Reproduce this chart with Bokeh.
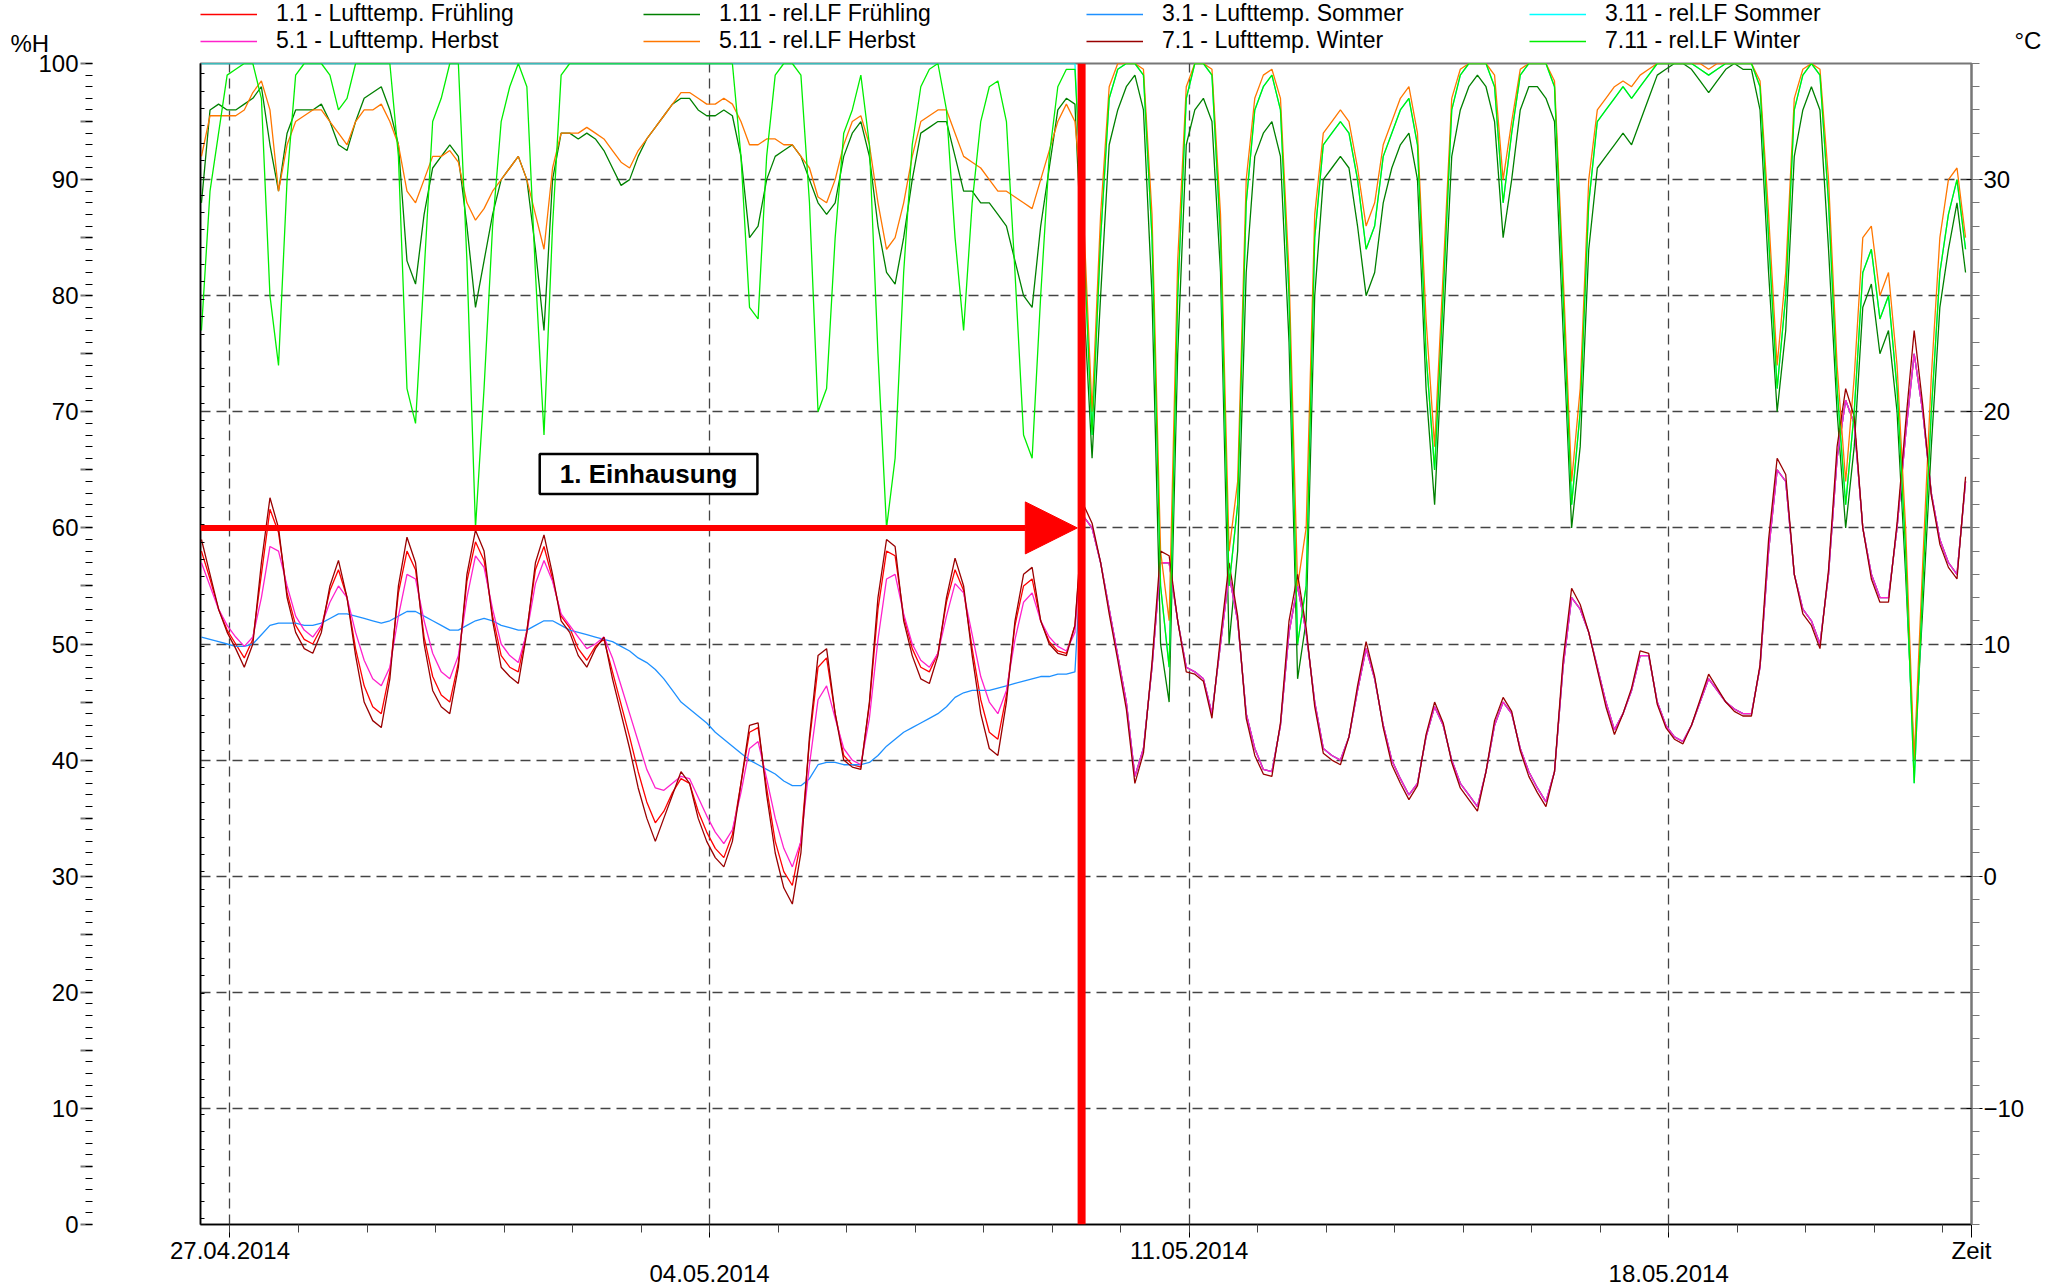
import pandas as pd
from bokeh.plotting import figure
from bokeh.layouts import column, row
from bokeh.models import (Range1d, LinearAxis, FixedTicker, SingleIntervalTicker, Legend,
                          LegendItem, Span, Arrow, NormalHead, Label, ColumnDataSource, Grid,
                          Title)
from bokeh.embed import file_html
from bokeh.resources import INLINE

FONT = "Liberation Sans"

# ---------------- data (3-hourly) ----------------
start_time = "2014-04-26 14:00"
n_points = 207

# --- temperatures before the 1st enclosure (26.04 14:00 .. 09.05 08:00) ---
tf_before = [14.0, 12.8, 11.5, 10.6,
             10.0, 9.4, 10.2, 13.0, 15.8, 14.8, 12.2, 10.8,
             10.2, 10.0, 10.7, 12.3, 13.2, 12.0, 9.8, 8.2,
             7.3, 7.0, 8.8, 12.2, 14.0, 13.2, 10.3, 8.6,
             7.8, 7.5, 9.2, 12.7, 14.4, 13.6, 11.2, 9.5,
             9.0, 8.8, 10.6, 13.2, 14.2, 12.8, 11.2, 10.7,
             9.8, 9.3, 9.9, 10.2, 8.8, 7.4, 6.0, 4.5,
             3.2, 2.3, 2.8, 3.6, 4.2, 4.0, 2.8, 1.9,
             1.2, 0.8, 1.8, 4.0, 6.2, 6.4, 3.8, 1.5,
             0.2, -0.4, 1.5, 5.8, 9.0, 9.4, 7.0, 5.2,
             4.8, 4.7, 7.4, 11.5, 14.0, 13.8, 11.2, 9.8,
             9.0, 8.8, 9.6, 11.8, 13.2, 12.3, 9.8, 7.6,
             6.2, 5.9, 7.8, 10.8, 12.5, 12.8, 11.0, 10.1,
             9.7, 9.6, 10.8]
th_before = [13.5, 12.5, 11.5, 10.8,
             10.3, 9.9, 10.3, 12.0, 14.2, 14.0, 12.5, 11.2,
             10.6, 10.3, 10.8, 11.8, 12.5, 12.0, 10.5, 9.3,
             8.5, 8.2, 9.0, 11.2, 13.0, 12.8, 11.0, 9.6,
             8.8, 8.5, 9.5, 12.0, 13.8, 13.3, 11.5, 10.0,
             9.5, 9.2, 10.5, 12.6, 13.6, 12.7, 11.3, 10.8,
             10.3, 9.8, 10.0, 10.3, 9.4, 8.2, 7.0, 5.8,
             4.6, 3.8, 3.7, 4.0, 4.3, 4.2, 3.4, 2.6,
             1.9, 1.4, 2.0, 3.6, 5.5, 5.8, 4.2, 2.5,
             1.2, 0.4, 1.5, 4.8, 7.6, 8.2, 6.8, 5.5,
             5.0, 4.8, 6.8, 10.2, 12.8, 13.0, 11.3, 10.0,
             9.3, 9.0, 9.6, 11.2, 12.6, 12.2, 10.4, 8.6,
             7.5, 7.0, 8.0, 10.2, 11.8, 12.2, 11.0, 10.3,
             9.9, 9.7, 10.5]
tw_before = [14.5, 13.0, 11.5, 10.5,
             9.8, 9.0, 10.0, 13.5, 16.3, 15.0, 12.0, 10.5,
             9.8, 9.6, 10.5, 12.5, 13.6, 12.0, 9.5, 7.5,
             6.7, 6.4, 8.5, 12.5, 14.6, 13.5, 10.0, 8.0,
             7.3, 7.0, 9.0, 13.0, 14.9, 14.0, 11.0, 9.0,
             8.6, 8.3, 10.5, 13.5, 14.7, 13.0, 11.0, 10.5,
             9.5, 9.0, 9.8, 10.3, 8.5, 7.0, 5.5, 3.8,
             2.5, 1.5, 2.5, 3.5, 4.5, 4.0, 2.5, 1.5,
             0.8, 0.4, 1.5, 4.0, 6.5, 6.6, 3.5, 1.0,
             -0.5, -1.2, 1.0, 6.0, 9.5, 9.8, 7.0, 5.0,
             4.7, 4.6, 7.5, 12.0, 14.5, 14.2, 11.0, 9.5,
             8.5, 8.3, 9.5, 12.0, 13.7, 12.5, 9.5, 7.0,
             5.5, 5.2, 7.5, 11.0, 13.0, 13.3, 11.0, 10.0,
             9.6, 9.5, 10.8]
ts_before = [10.3, 10.2, 10.1, 10.0,
             9.9, 9.9, 10.0, 10.4, 10.8, 10.9, 10.9, 10.9,
             10.8, 10.8, 10.9, 11.1, 11.3, 11.3, 11.2, 11.1,
             11.0, 10.9, 11.0, 11.2, 11.4, 11.4, 11.2, 11.0,
             10.8, 10.6, 10.6, 10.8, 11.0, 11.1, 11.0, 10.8,
             10.7, 10.6, 10.6, 10.8, 11.0, 11.0, 10.8, 10.6,
             10.5, 10.4, 10.3, 10.2, 10.1, 9.9, 9.7, 9.4,
             9.2, 8.9, 8.5, 8.0, 7.5, 7.2, 6.9, 6.6,
             6.2, 5.9, 5.6, 5.3, 5.0, 4.8, 4.6, 4.4,
             4.1, 3.9, 3.9, 4.2, 4.8, 4.9, 4.9, 4.8,
             4.8, 4.8, 4.9, 5.2, 5.6, 5.9, 6.2, 6.4,
             6.6, 6.8, 7.0, 7.3, 7.7, 7.9, 8.0, 8.0,
             8.0, 8.1, 8.2, 8.3, 8.4, 8.5, 8.6, 8.6,
             8.7, 8.7, 8.8]

# --- temperatures after the enclosure (09.05 11:00 .. 22.05 08:00) ---
t_after = [15.5, 15.0, 13.5, 11.5, 9.5,
           7.5, 4.3, 5.5, 9.0, 13.5, 13.5, 11.0, 9.0,
           8.8, 8.5, 7.0, 10.0, 13.0, 11.0, 7.0, 5.5,
           4.6, 4.5, 6.5, 10.5, 12.5, 10.5, 7.5, 5.5,
           5.2, 5.0, 6.0, 8.0, 9.8, 8.5, 6.5, 5.0,
           4.2, 3.5, 4.0, 6.0, 7.3, 6.5, 5.0, 4.0,
           3.5, 3.0, 4.5, 6.5, 7.5, 7.0, 5.5, 4.5,
           3.8, 3.2, 4.5, 9.0, 12.0, 11.5, 10.5, 9.0,
           7.5, 6.3, 7.0, 8.0, 9.5, 9.5, 7.5, 6.5,
           6.0, 5.8, 6.5, 7.5, 8.5, 8.0, 7.5, 7.2,
           7.0, 7.0, 9.0, 14.0, 17.5, 17.0, 13.0, 11.5,
           11.0, 10.0, 13.0, 18.0, 20.5, 19.5, 15.0, 13.0,
           12.0, 12.0, 15.0, 19.0, 22.5, 20.0, 16.5, 14.5,
           13.5, 13.0, 17.0]
tw_after = [16.0, 15.2, 13.5, 11.3, 9.3,
            7.2, 4.0, 5.3, 9.2, 14.0, 13.8, 11.0, 8.8,
            8.7, 8.4, 6.8, 10.3, 13.5, 11.2, 6.8, 5.2,
            4.4, 4.3, 6.6, 11.0, 13.0, 10.7, 7.3, 5.3,
            5.0, 4.8, 6.0, 8.2, 10.1, 8.6, 6.4, 4.8,
            4.0, 3.3, 3.9, 6.1, 7.5, 6.6, 4.9, 3.8,
            3.3, 2.8, 4.5, 6.7, 7.7, 7.1, 5.4, 4.3,
            3.6, 3.0, 4.5, 9.3, 12.4, 11.7, 10.5, 8.9,
            7.3, 6.1, 7.0, 8.1, 9.7, 9.6, 7.4, 6.4,
            5.9, 5.7, 6.5, 7.6, 8.7, 8.1, 7.5, 7.1,
            6.9, 6.9, 9.1, 14.5, 18.0, 17.3, 13.0, 11.3,
            10.8, 9.8, 13.2, 18.5, 21.0, 19.8, 15.0, 12.8,
            11.8, 11.8, 15.2, 19.5, 23.5, 20.3, 16.4, 14.3,
            13.3, 12.8, 17.2]

# --- relative humidity before the enclosure ---
hf_before = [88, 96, 96.5, 96,
             96, 96.5, 97, 98, 93, 89, 94, 96,
             96, 96, 96.5, 95, 93, 92.5, 95, 97,
             97.5, 98, 96, 93, 83, 81, 87, 91,
             92, 93, 92, 86, 79, 83, 87, 90,
             91, 92, 90, 84, 77, 90, 94, 94,
             93.5, 94, 93.5, 92.5, 91, 89.5, 90, 92,
             93.5, 94.5, 95.5, 96.5, 97, 97, 96, 95.5,
             95.5, 96, 95.5, 92, 85, 86, 90, 92,
             92.5, 93, 92, 90, 88, 87, 88, 92,
             94, 95, 92, 86, 82, 81, 85, 90,
             94, 94.5, 95, 95, 92, 89, 89, 88,
             88, 87, 86, 83, 80, 79, 86, 91,
             96, 97, 96.5]
hh_before = [92, 95.5, 95.5, 95.5,
             95.5, 96, 97.5, 98.5, 96, 89, 93, 95,
             95.5, 96, 96, 95, 94, 93, 95, 96,
             96, 96.5, 95, 93, 89, 88, 90, 92,
             92, 92.5, 91.5, 88, 86.5, 87.5, 89, 90,
             91, 92, 90, 87, 84, 91, 94, 94,
             94, 94.5, 94, 93.5, 92.5, 91.5, 91, 92.5,
             93.5, 94.5, 95.5, 96.5, 97.5, 97.5, 97, 96.5,
             96.5, 97, 96.5, 95, 93, 93, 93.5, 93.5,
             93, 93, 92, 91, 88.5, 88, 90, 93,
             95, 95.5, 93, 88, 84, 85, 88, 92,
             95, 95.5, 96, 96, 94, 92, 91.5, 91,
             90, 89, 89, 88.5, 88, 87.5, 90, 92.5,
             95, 96.5, 95]
hw_before = [77, 89, 94, 99,
             99.5, 100, 100, 97, 80, 74, 90, 99,
             100, 100, 100, 99, 96, 97, 100, 100,
             100, 100, 100, 92, 72, 69, 82, 95,
             97, 100, 100, 83, 60, 72, 86, 95,
             98, 100, 98, 82, 68, 86, 99, 100,
             100, 100, 100, 100, 100, 100, 100, 100,
             100, 100, 100, 100, 100, 100, 100, 100,
             100, 100, 100, 92, 79, 78, 92, 99,
             100, 100, 99, 88, 70, 72, 85, 94,
             96, 99, 93, 75, 60, 66, 82, 93,
             98, 99.5, 100, 96, 85, 77, 88, 95,
             98, 98.5, 95, 82, 68, 66, 80, 92,
             98, 99.5, 99.5]
hs_before = [100, 100, 100, 100,
             100, 100, 100, 100, 100, 100, 100, 100,
             100, 100, 100, 100, 100, 100, 100, 100,
             100, 100, 100, 100, 100, 100, 100, 100,
             100, 100, 100, 100, 100, 100, 100, 100,
             100, 100, 100, 100, 100, 100, 100, 100,
             100, 100, 100, 100, 100, 100, 100, 100,
             100, 100, 100, 100, 100, 100, 100, 100,
             100, 100, 100, 100, 100, 100, 100, 100,
             100, 100, 100, 100, 100, 100, 100, 100,
             100, 100, 100, 100, 100, 100, 100, 100,
             100, 100, 100, 100, 100, 100, 100, 100,
             100, 100, 100, 100, 100, 100, 100, 100,
             100, 100, 100]

# --- relative humidity after the enclosure ---
h_after = [85, 68, 85, 97, 99.5,
           100, 100, 99, 85, 55, 48, 80, 97,
           100, 100, 99, 85, 55, 62, 88, 96,
           98, 99, 96, 80, 50, 55, 85, 93,
           94, 95, 94, 90, 84, 86, 92, 94,
           96, 97, 93, 75, 65, 80, 96, 99,
           100, 100, 100, 98, 88, 94, 99, 100,
           100, 100, 98, 80, 62, 70, 88, 95,
           96, 97, 98, 97, 98, 99, 100, 100,
           100, 100, 100, 99.5, 99, 99.5, 100, 100,
           100, 100, 98, 85, 72, 80, 96, 99,
           100, 99, 88, 72, 62, 70, 82, 84,
           78, 80, 72, 58, 38, 55, 70, 82,
           87, 90, 84]
hf_after = [80, 66, 80, 93, 96,
            98, 99, 96, 80, 50, 45, 75, 93,
            96, 97, 95, 82, 50, 58, 82, 92,
            94, 95, 92, 76, 47, 52, 80, 90,
            91, 92, 91, 86, 80, 82, 88, 91,
            93, 94, 90, 72, 62, 77, 92, 96,
            98, 99, 98, 95, 85, 90, 96, 98,
            98, 97, 95, 77, 60, 67, 84, 91,
            92, 93, 94, 93, 95, 97, 99, 99.5,
            100, 100, 99.5, 98.5, 97.5, 98.5, 99.5, 100,
            99.5, 99.5, 96, 82, 70, 77, 92, 96,
            98, 96, 84, 70, 60, 67, 79, 81,
            75, 77, 70, 56, 40, 53, 67, 79,
            84, 88, 82]
hh_after = [87, 70, 87, 98, 100,
            100, 100, 99.5, 87, 58, 52, 83, 98,
            100, 100, 99.5, 87, 58, 64, 90, 97,
            99, 99.5, 97, 82, 55, 60, 87, 94,
            95, 96, 95, 91, 86, 88, 93, 95,
            97, 98, 94, 78, 67, 82, 97, 99.5,
            100, 100, 100, 99, 90, 95, 99.5, 100,
            100, 100, 98.5, 82, 64, 72, 90, 96,
            97, 98, 98.5, 98, 99, 99.5, 100, 100,
            100, 100, 100, 100, 99.5, 100, 100, 100,
            100, 100, 98.5, 87, 74, 82, 97, 99.5,
            100, 99.5, 90, 74, 64, 73, 85, 86,
            80, 82, 74, 60, 40, 57, 73, 85,
            90, 91, 85]

temp_fruehling = tf_before + t_after
temp_herbst = th_before + t_after
temp_sommer = ts_before + t_after
temp_winter = tw_before + tw_after
hum_fruehling = hf_before + hf_after
hum_herbst = hh_before + hh_after
hum_sommer = hs_before + h_after
hum_winter = hw_before + h_after

for name, arr in [("tf", temp_fruehling), ("th", temp_herbst), ("ts", temp_sommer),
                  ("tw", temp_winter), ("hf", hum_fruehling), ("hh", hum_herbst),
                  ("hs", hum_sommer), ("hw", hum_winter)]:
    assert len(arr) == n_points, (name, len(arr))

series_labels = ["1.1 - Lufttemp. Frühling", "1.11 - rel.LF Frühling",
                 "3.1 - Lufttemp. Sommer", "3.11 - rel.LF Sommer",
                 "5.1 - Lufttemp. Herbst", "5.11 - rel.LF Herbst",
                 "7.1 - Lufttemp. Winter", "7.11 - rel.LF Winter"]
series_cols = ["temp_fruehling", "hum_fruehling", "temp_sommer", "hum_sommer",
               "temp_herbst", "hum_herbst", "temp_winter", "hum_winter"]
series_colors = ["#ff0000", "#008000", "#1e90ff", "#00ffff",
                 "#ff22cc", "#ff7700", "#990000", "#00ee00"]
series_is_temp = [True, False, True, False, True, False, True, False]

week_dates = ["2014-04-27", "2014-05-04", "2014-05-11", "2014-05-18"]
week_labels = ["27.04.2014", "04.05.2014", "11.05.2014", "18.05.2014"]
enclosure_time = "2014-05-09 10:20"
x_start_time = "2014-04-26 13:40"
x_end_time = "2014-05-22 10:05"


def ms(s):
    return pd.Timestamp(s).value / 1e6


times = pd.date_range(start_time, periods=n_points, freq="3h")
src = ColumnDataSource(dict(t=times,
                            temp_fruehling=temp_fruehling, temp_herbst=temp_herbst,
                            temp_sommer=temp_sommer, temp_winter=temp_winter,
                            hum_fruehling=hum_fruehling, hum_herbst=hum_herbst,
                            hum_sommer=hum_sommer, hum_winter=hum_winter))

H_TOTAL = 1286
LEFT_W = 93          # strip holding the %H scale
W = 2060 - LEFT_W    # width of head and main figures
HEAD_H = 54
BORDER_L = 200 - LEFT_W
BORDER_R = 89
FRAME_TOP = 63
FRAME_H = 1161

y_pct = Range1d(0, 100)

# ---------------- left strip: %H scale ----------------
left = figure(width=LEFT_W, height=H_TOTAL, output_backend="svg", toolbar_location=None,
              x_axis_type=None, y_axis_type=None,
              x_range=Range1d(0, 1), y_range=y_pct,
              min_border_left=LEFT_W - 1, min_border_right=0,
              min_border_top=FRAME_TOP, min_border_bottom=H_TOTAL - FRAME_TOP - FRAME_H)
left.outline_line_color = None
left.background_fill_color = "white"
left.border_fill_color = "white"
pct_major = list(range(0, 101, 5))
pct_minor = list(range(0, 101, 1))
left.add_layout(LinearAxis(ticker=FixedTicker(ticks=pct_major, minor_ticks=pct_minor),
                           major_label_overrides={v: "" for v in pct_major if v % 10},
                           axis_line_color=None,
                           major_tick_in=0, major_tick_out=12, minor_tick_in=0, minor_tick_out=7,
                           major_tick_line_color="#777777", major_tick_line_width=2,
                           minor_tick_line_color="black",
                           major_label_standoff=2, major_label_text_font=FONT,
                           major_label_text_font_size="24px", major_label_text_color="black"),
                "left")
left.add_layout(Title(text="%H", align="left", offset=-(LEFT_W - 1 - 10), standoff=14,
                      text_font=FONT, text_font_size="24px", text_font_style="normal",
                      text_color="black"), "above")

# ---------------- head strip: legend and °C ----------------
head = figure(width=W, height=HEAD_H, output_backend="svg", toolbar_location=None,
              x_axis_type=None, y_axis_type=None,
              x_range=Range1d(0, 1), y_range=Range1d(HEAD_H, 0),
              min_border_left=BORDER_L, min_border_right=BORDER_R,
              min_border_top=0, min_border_bottom=0)
head.outline_line_color = None
head.background_fill_color = "white"
head.border_fill_color = "white"

head_items = []
for lab, col, colr in zip(series_labels, series_cols, series_colors):
    # same series, outside the strip's view: only its legend swatch shows here
    r = head.line("t", col, source=src, line_color=colr, line_width=1.6)
    head_items.append(LegendItem(label=lab, renderers=[r]))
legend = Legend(items=head_items, location=(0, 0), orientation="horizontal", ncols=4,
                glyph_width=57, glyph_height=20, label_standoff=19, label_width=367,
                label_height=20, spacing=0, padding=0, margin=0,
                label_text_font=FONT, label_text_font_size="23px", label_text_color="black",
                border_line_color=None, background_fill_alpha=0)
head.add_layout(legend)

unit_row = 41
head.add_layout(LinearAxis(ticker=FixedTicker(ticks=[unit_row]),
                           major_label_overrides={unit_row: "°C"},
                           axis_line_color=None, major_tick_line_color=None,
                           major_tick_in=0, major_tick_out=0, minor_tick_in=0, minor_tick_out=0,
                           major_label_standoff=43, major_label_text_font=FONT,
                           major_label_text_font_size="24px", major_label_text_color="black"),
                "right")

# ---------------- main figure ----------------
MAIN_H = H_TOTAL - HEAD_H
p = figure(width=W, height=MAIN_H, output_backend="svg", toolbar_location=None,
           x_axis_type=None, y_axis_type=None,
           x_range=Range1d(ms(x_start_time), ms(x_end_time)),
           y_range=y_pct,
           min_border_left=BORDER_L, min_border_right=BORDER_R,
           min_border_top=FRAME_TOP - HEAD_H,
           min_border_bottom=MAIN_H - (FRAME_TOP - HEAD_H) - FRAME_H)
p.extra_y_ranges = {"t": Range1d(-15, 35)}
p.outline_line_color = "#777777"
p.outline_line_width = 2
p.background_fill_color = "white"
p.border_fill_color = "white"

week_ticks = [ms(d) for d in week_dates]
day_ticks = [ms(d) for d in pd.date_range("2014-04-27", "2014-05-22", freq="D")]
end_tick = ms(x_end_time)

# grids
p.add_layout(Grid(dimension=0, ticker=FixedTicker(ticks=week_ticks),
                  grid_line_color="#444444", grid_line_dash="10 6", grid_line_width=1.3))
p.add_layout(Grid(dimension=1, ticker=FixedTicker(ticks=[10, 20, 30, 40, 50, 60, 70, 80, 90]),
                  grid_line_color="#444444", grid_line_dash="10 6", grid_line_width=1.3))

# bottom axes (two staggered label rows)
xa1 = LinearAxis(ticker=FixedTicker(ticks=week_ticks + [end_tick], minor_ticks=day_ticks),
                 major_label_overrides={week_ticks[0]: week_labels[0], week_ticks[1]: "",
                                        week_ticks[2]: week_labels[2], week_ticks[3]: "",
                                        end_tick: "Zeit"},
                 axis_line_color="black", axis_line_width=1.5,
                 major_tick_in=0, major_tick_out=13, minor_tick_in=0, minor_tick_out=8,
                 major_tick_line_color="black", minor_tick_line_color="#444444",
                 major_label_standoff=-1, major_label_text_font=FONT,
                 major_label_text_font_size="24px", major_label_text_color="black")
xa2 = LinearAxis(ticker=FixedTicker(ticks=[week_ticks[1], week_ticks[3]]),
                 major_label_overrides={week_ticks[1]: week_labels[1], week_ticks[3]: week_labels[3]},
                 axis_line_color=None, major_tick_line_color=None, minor_tick_line_color=None,
                 major_tick_in=0, major_tick_out=0, minor_tick_in=0, minor_tick_out=0,
                 major_label_standoff=-2, major_label_text_font=FONT,
                 major_label_text_font_size="24px", major_label_text_color="black")
p.add_layout(xa1, "below")
p.add_layout(xa2, "below")

# left frame edge with short inner ticks only
frame_ticks = [99.11 - 1.494 * k for k in range(67)]
p.add_layout(LinearAxis(ticker=FixedTicker(ticks=[], minor_ticks=frame_ticks),
                        axis_line_color="black", axis_line_width=1.5,
                        major_tick_in=0, major_tick_out=0, minor_tick_in=4, minor_tick_out=0,
                        minor_tick_line_color="black", major_label_standoff=0), "left")

# right °C axis
yr = LinearAxis(y_range_name="t", ticker=SingleIntervalTicker(interval=10, num_minor_ticks=10),
                axis_line_color="#777777", axis_line_width=2,
                major_tick_in=5, major_tick_out=11, minor_tick_in=0, minor_tick_out=8,
                major_tick_line_color="black", minor_tick_line_color="#777777",
                major_label_standoff=1, major_label_text_font=FONT,
                major_label_text_font_size="24px", major_label_text_color="black")
p.add_layout(yr, "right")

# ---------------- series ----------------
for col, colr, is_t in zip(series_cols, series_colors, series_is_temp):
    if is_t:
        p.line("t", col, source=src, line_color=colr, line_width=1.3, y_range_name="t")
    else:
        p.line("t", col, source=src, line_color=colr, line_width=1.3)

# ---------------- annotations ----------------
t_enc = ms(enclosure_time)
p.add_layout(Span(location=t_enc, dimension="height", line_color="#ff0000", line_width=8))
p.add_layout(Arrow(end=NormalHead(size=52, fill_color="#ff0000", line_color="#ff0000"),
                   x_start=ms(x_start_time), y_start=60,
                   x_end=t_enc - 1.5 * 3600e3, y_end=60,
                   line_color="#ff0000", line_width=6))
p.add_layout(Label(x=ms("2014-05-03 02:38"), y=64.64, text="1. Einhausung",
                   text_align="center", text_baseline="middle", text_font=FONT,
                   text_font_style="bold", text_font_size="26px", text_color="black",
                   border_line_color="black", border_line_width=2.5,
                   background_fill_color="white",
                   padding=dict(left=20, right=20, top=5, bottom=5)))

layout = row(left, column(head, p, spacing=0), spacing=0)
open("out.html", "w").write(file_html(layout, INLINE))
